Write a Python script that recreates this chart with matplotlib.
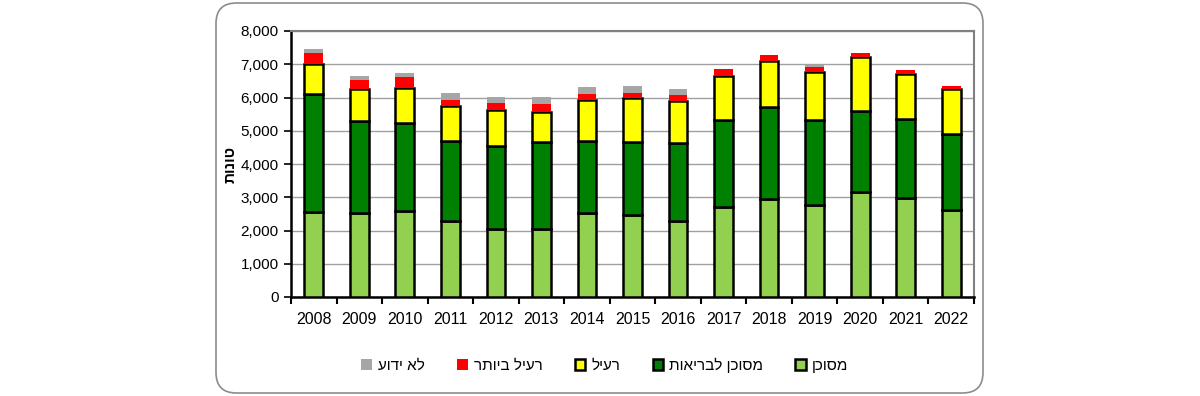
import matplotlib
matplotlib.use("Agg")
import matplotlib.pyplot as plt
import numpy as np
from matplotlib.patches import FancyBboxPatch
from matplotlib.ticker import FuncFormatter, FixedLocator

plt.rcParams['font.family'] = ['Liberation Sans', 'DejaVu Sans']

# data (tons per year, by hazard class)
years = ['2008', '2009', '2010', '2011', '2012', '2013', '2014', '2015',
         '2016', '2017', '2018', '2019', '2020', '2021', '2022']
dangerous = [2550, 2530, 2580, 2290, 2040, 2040, 2530, 2460, 2290, 2710, 2950, 2760, 3150, 2970, 2620]
health_hazard = [3565, 2750, 2640, 2410, 2490, 2610, 2170, 2190, 2330, 2610, 2765, 2570, 2440, 2370, 2290]
toxic = [905, 965, 1065, 1045, 1095, 920, 1225, 1345, 1275, 1335, 1375, 1435, 1630, 1375, 1345]
very_toxic = [320, 290, 330, 180, 210, 235, 190, 150, 180, 190, 200, 155, 110, 115, 90]
unknown = [110, 110, 120, 210, 180, 210, 200, 200, 180, 0, 0, 70, 0, 0, 0]

series_names = ['מסוכן', 'מסוכן לבריאות', 'רעיל', 'רעיל ביותר', 'לא ידוע']
y_title = 'טונות'


def heb(s):
    # matplotlib has no bidi support, so reverse for visual order
    return s[::-1]


fig = plt.figure(figsize=(12, 3.96), dpi=100)

# rounded frame around the chart
frame = FancyBboxPatch((216 / 1200, 3 / 396), 767 / 1200, 390 / 396,
                       boxstyle="round,pad=0,rounding_size=0.017",
                       transform=fig.transFigure, facecolor='none',
                       edgecolor='#8c8c8c', linewidth=1.2,
                       mutation_aspect=1200 / 396, zorder=-1)
fig.patches.append(frame)

ax = fig.add_axes([291 / 1200, 99 / 396, 683 / 1200, 266 / 396])

x = np.arange(len(years))
w = 0.41
series = [dangerous, health_hazard, toxic, very_toxic, unknown]
colors = ['#92d050', '#008000', '#ffff00', '#ff0000', '#a6a6a6']
edges = ['black', 'black', 'black', 'none', 'none']
lws = [1.8, 1.8, 1.8, 0, 0]

bottom = np.zeros(len(years))
handles = []
for vals, c, ec, lw, name in zip(series, colors, edges, lws, series_names):
    b = ax.bar(x, vals, w, bottom=bottom, color=c, edgecolor=ec, linewidth=lw,
               label=heb(name), zorder=3)
    handles.append(b)
    bottom += np.array(vals)

ax.set_xlim(-0.5, len(years) - 0.5)
ax.set_ylim(0, 8000)
ax.set_yticks(np.arange(0, 8001, 1000))
ax.yaxis.set_major_formatter(FuncFormatter(lambda v, p: f'{int(v):,}'))
ax.grid(axis='y', color='#a0a0a0', linewidth=1, zorder=0)

ax.set_xticks(x)
ax.set_xticklabels(years)
ax.xaxis.set_minor_locator(FixedLocator(np.arange(-0.5, len(years), 1)))
ax.tick_params(axis='x', which='major', length=0, pad=11, labelsize=11.5)
ax.tick_params(axis='x', which='minor', length=5, width=1.5, direction='out')
ax.tick_params(axis='y', length=5, width=1.2, direction='out', labelsize=11, pad=4)

for side in ['left', 'bottom']:
    ax.spines[side].set_linewidth(1.8)
    ax.spines[side].set_color('black')
for side in ['top', 'right']:
    ax.spines[side].set_linewidth(1.5)
    ax.spines[side].set_color('#808080')

ax.set_ylabel(heb(y_title), fontsize=11, fontweight='bold', labelpad=2)

leg = fig.legend(handles[::-1], [h.get_label() for h in handles[::-1]],
                 loc='center', bbox_to_anchor=(605 / 1200, 1 - 365 / 396),
                 ncol=5, frameon=False, fontsize=11, handlelength=0.7,
                 handleheight=0.7, handletextpad=0.4, columnspacing=2.1)

fig.savefig('out.png', dpi=100)
